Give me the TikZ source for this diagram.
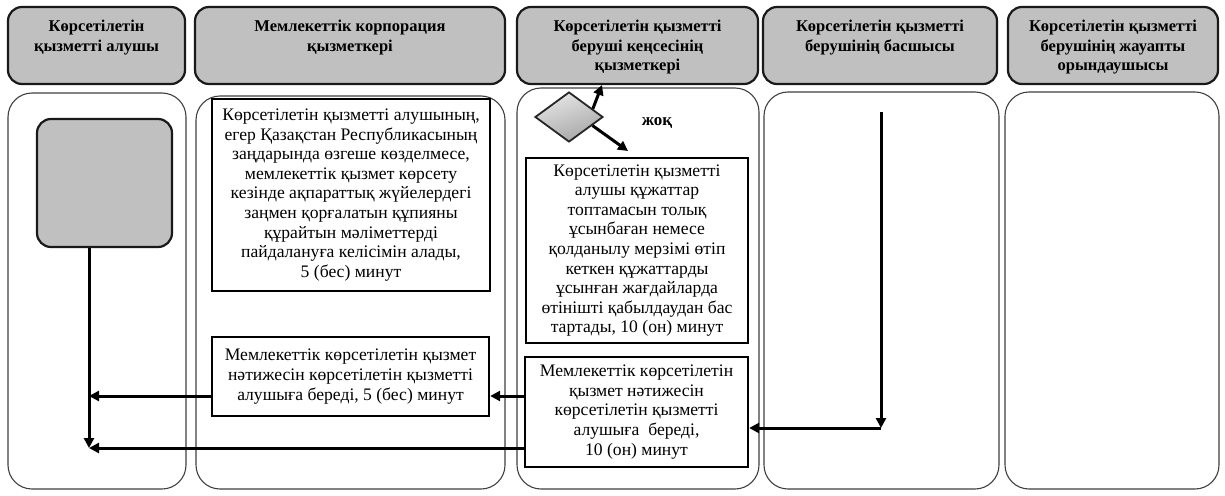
\documentclass[tikz,border=0pt]{standalone}
\usepackage{fontspec}
\setmainfont{Liberation Serif}
\usetikzlibrary{shapes.geometric,arrows.meta,calc}
\definecolor{hdrgray}{HTML}{C0C0C0}
\begin{document}
\begin{tikzpicture}[x=1pt,y=-1pt,
  lane/.style={draw=black!75, line width=1.1pt, rounded corners=24pt, inner sep=0pt},
  hdr/.style={draw=black!90, line width=2.2pt, fill=hdrgray, rounded corners=14pt, inner sep=0pt},
  htext/.style={anchor=north, align=center, font=\fontsize{16.5}{19.5}\selectfont\bfseries, inner sep=0pt},
  stepbox/.style={draw=black, line width=2.3pt, fill=white, align=center, inner sep=0pt,
    font=\fontsize{17.6}{19.6}\selectfont},
  arr/.style={line width=3pt, -{Triangle[length=10pt,width=10pt]}}
]
\useasboundingbox (0,0) rectangle (1225,495);
\fill[white] (0,0) rectangle (1225,495);

% lanes
\node[lane, minimum width=178pt, minimum height=396pt] (l1) at (97,291) {};
\node[lane, minimum width=309pt, minimum height=393pt] (l2) at (350.5,292.5) {};
\node[lane, minimum width=242pt, minimum height=401pt] (l3) at (638,288.5) {};
\node[lane, minimum width=235pt, minimum height=397pt] (l4) at (881.5,290.5) {};
\node[lane, minimum width=214pt, minimum height=397pt] (l5) at (1112,290.5) {};

% headers
\node[hdr, minimum width=177pt, minimum height=77pt] (h1) at (96.5,45.5) {};
\node[hdr, minimum width=310pt, minimum height=77pt] (h2) at (350,45.5) {};
\node[hdr, minimum width=241pt, minimum height=77pt] (h3) at (637.5,45.5) {};
\node[hdr, minimum width=234pt, minimum height=77pt] (h4) at (880,45.5) {};
\node[hdr, minimum width=210pt, minimum height=77pt] (h5) at (1113,45.5) {};

\node[htext] (t1) at (96.5,20) {Көрсетілетін\\қызметті алушы};
\node[htext] (t2) at (350,20) {Мемлекеттік корпорация\\қызметкері};
\node[htext] (t3) at (637.5,20) {Көрсетілетін қызметті\\беруші кеңсесінің\\қызметкері};
\node[htext] (t4) at (880,20) {Көрсетілетін қызметті\\берушінің басшысы};
\node[htext] (t5) at (1113,20) {Көрсетілетін қызметті\\берушінің жауапты\\орындаушысы};

% start box
\node[draw=black!90, line width=2.2pt, fill=hdrgray, rounded corners=14pt,
  minimum width=135pt, minimum height=128pt, inner sep=0pt] (g) at (104.5,183) {};

% process boxes
\node[stepbox, minimum width=278pt, minimum height=192pt] (a) at (351,195)
 {Көрсетілетін қызметті алушының,\\егер Қазақстан Республикасының\\заңдарында өзгеше көзделмесе,\\мемлекеттік қызмет көрсету\\кезінде ақпараттық жүйелердегі\\заңмен қорғалатын құпияны\\құрайтын мәліметтерді\\пайдалануға келісімін алады,\\5 (бес) минут};
\node[stepbox, minimum width=277pt, minimum height=79pt] (b) at (350.5,376.5)
 {Мемлекеттік көрсетілетін қызмет\\нәтижесін көрсетілетін қызметті\\алушыға береді, 5 (бес) минут};
\node[stepbox, minimum width=222pt, minimum height=185pt] (c) at (637,250.5)
 {Көрсетілетін қызметті\\алушы құжаттар\\топтамасын толық\\ұсынбаған немесе\\қолданылу мерзімі өтіп\\кеткен құжаттарды\\ұсынған жағдайларда\\өтінішті қабылдаудан бас\\тартады, 10 (он) минут};
\node[stepbox, minimum width=223pt, minimum height=110pt] (d) at (636.5,412)
 {Мемлекеттік көрсетілетін\\қызмет нәтижесін\\көрсетілетін қызметті\\алушыға\ \ береді,\\10 (он) минут};

% decision
\node[diamond, draw=black!85, line width=1.8pt, top color=gray!20, bottom color=gray!70,
  shading angle=20, minimum width=68pt, minimum height=50pt, inner sep=0pt] (dm) at (569,117) {};
\node[font=\fontsize{17}{18}\selectfont\bfseries, inner sep=0pt] (no) at (657,123) {жоқ};

% connectors
\coordinate (u) at (602,85);
\coordinate (w) at (628,151);
\coordinate (v) at (89,448);
\coordinate (y1) at (0,396);
\coordinate (t4top) at (881,112);
\coordinate (c4) at (881,428);

\draw[arr] (dm.19) -- (u);
\draw[arr] (dm.-20) -- (w);
\draw[arr] (g.south -| v) -- (v);
\draw[arr] (b.west |- y1) -- (v |- y1);
\draw[arr] (d.west |- y1) -- (b.east |- y1);
\draw[arr] (d.west |- v) -- (v);
\draw[arr] (t4top) -- (c4);
\draw[arr] (c4) -- (c4 -| d.east);
\end{tikzpicture}
\end{document}
